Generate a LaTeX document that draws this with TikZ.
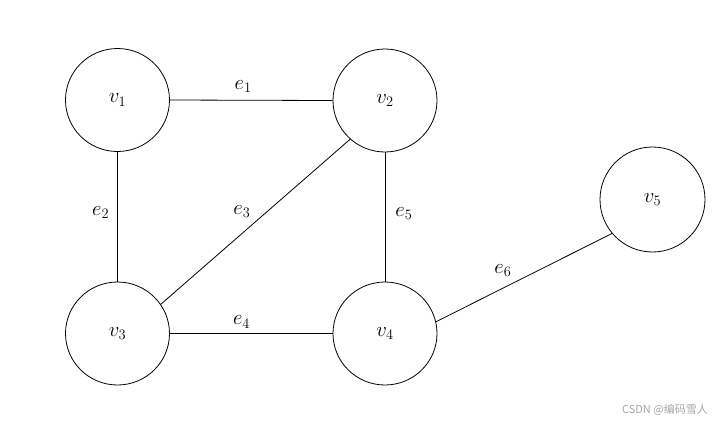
\documentclass[tikz,border=0pt]{standalone}
\usepackage{fontspec}
\newfontfamily\cjk{Noto Sans CJK SC}
\usetikzlibrary{shapes.geometric}

\begin{document}
\begin{tikzpicture}[x=1pt, y=-1pt]
            \tikzset{vertex/.style = {ellipse, draw, line width=0.8pt, inner sep=0pt, minimum width=104pt, minimum height=103pt, font=\fontsize{21}{24}\selectfont}}
            \tikzset{link/.style = {line width=0.8pt}}
            \tikzset{elabel/.style = {font=\fontsize{21}{24}\selectfont, inner sep=2pt}}

            \useasboundingbox (0,0) rectangle (718,424);

            % vertices
            \node[vertex] (v1) at (117.5, 100) {$v_1$};
            \node[vertex] (v2) at (385, 100.5) {$v_2$};
            \node[vertex] (v3) at (117.5, 333.5) {$v_3$};
            \node[vertex] (v4) at (385, 333.5) {$v_4$};
            \node[vertex, minimum width=105pt, minimum height=105pt] (v5) at (652.5, 199.5) {$v_5$};

            % edges
            \draw[link] (v1.east) -- node[elabel, pos=0.45, above=5pt] {$e_1$} (v2.west);
            \draw[link] (v1.south) -- node[elabel, pos=0.47, left=6pt] {$e_2$} (v3.north);
            \draw[link] (v2.228.5) -- node[elabel, pos=0.44, left=14pt] {$e_3$} (v3.34.4);
            \draw[link] (v3.east) -- node[elabel, pos=0.44, above=3pt] {$e_4$} (v4.west);
            \draw[link] (v2.south) -- node[elabel, pos=0.47, right=8pt] {$e_5$} (v4.north);
            \draw[link] (v4.13) -- node[elabel, pos=0.38, above=9pt] {$e_6$} (v5.220.4);

            % watermark
            \node[font=\cjk\fontsize{11}{13}\selectfont, text=gray!70, anchor=east, inner sep=0pt] (mark) at (708, 410) {CSDN @编码雪人};
\end{tikzpicture}
\end{document}
